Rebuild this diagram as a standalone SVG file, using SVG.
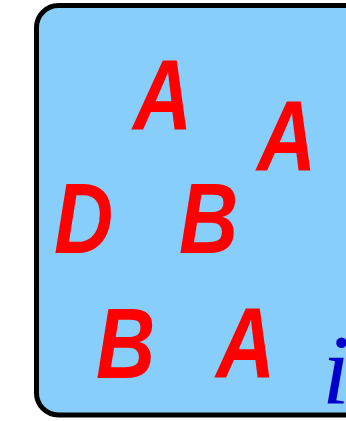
<svg xmlns="http://www.w3.org/2000/svg" width="346" height="421" viewBox="0 0 346 421">
<style>
.box{fill:#87cefa;stroke:#000;stroke-width:5}
.l{font-family:"Liberation Sans",sans-serif;font-weight:bold;font-style:italic;font-size:100px;fill:#ff0000}
.i{font-family:"Liberation Serif",serif;font-style:italic;font-size:100px;fill:#0000cc}
</style>
<rect class="box" x="36.5" y="5.5" width="360" height="409.5" rx="22"/>
<g id="A1" transform="translate(133,130) scale(0.82,1)"><text class="l">A</text></g>
<g id="A2" transform="translate(257,171) scale(0.82,1)"><text class="l">A</text></g>
<g id="D" transform="translate(54,253) scale(0.82,1)"><text class="l">D</text></g>
<g id="B1" transform="translate(179,253) scale(0.82,1)"><text class="l">B</text></g>
<g id="B2" transform="translate(96,378) scale(0.82,1)"><text class="l">B</text></g>
<g id="A3" transform="translate(216,378) scale(0.82,1)"><text class="l">A</text></g>
<g id="i"><text class="i" x="322" y="403">i</text></g>
</svg>
